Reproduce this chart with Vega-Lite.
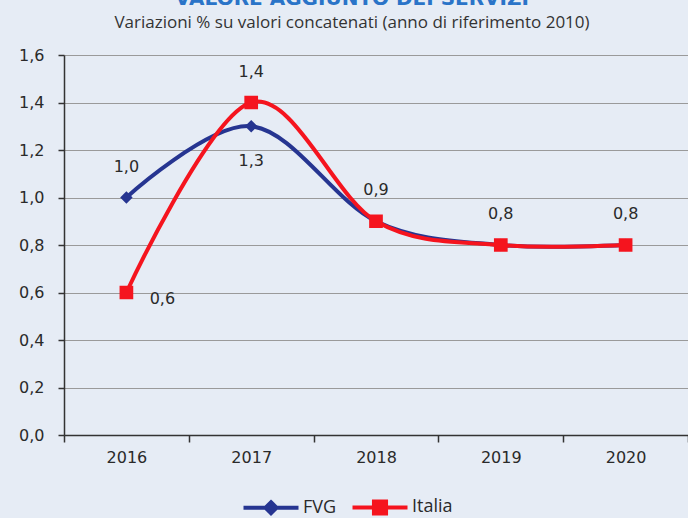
{
  "$schema": "https://vega.github.io/schema/vega-lite/v6.json",
  "width": 624,
  "height": 380,
  "autosize": {"type": "none"},
  "padding": {"left": 64, "top": 55, "right": 0, "bottom": 83},
  "background": "#e6ecf5",
  "title": {
    "text": "VALORE AGGIUNTO DEI SERVIZI",
    "subtitle": "Variazioni % su valori concatenati (anno di riferimento 2010)",
    "anchor": "middle",
    "dx": -24,
    "dy": -8,
    "font": "DejaVu Sans",
    "fontSize": 20,
    "fontWeight": "bold",
    "color": "#2a74c8",
    "subtitleFont": "Open Sans",
    "subtitleFontSize": 17,
    "subtitleColor": "#333333",
    "subtitlePadding": 6,
    "offset": 8
  },
  "config": {
    "locale": {"number": {"decimal": ",", "thousands": ".", "grouping": [3], "currency": ["€", ""]}},
    "view": {"stroke": null},
    "font": "DejaVu Sans"
  },
  "data": {
    "values": [
      {"year": "2016", "series": "FVG", "value": 1.0},
      {"year": "2017", "series": "FVG", "value": 1.3},
      {"year": "2018", "series": "FVG", "value": 0.9},
      {"year": "2019", "series": "FVG", "value": 0.8},
      {"year": "2020", "series": "FVG", "value": 0.8},
      {"year": "2016", "series": "Italia", "value": 0.6},
      {"year": "2017", "series": "Italia", "value": 1.4},
      {"year": "2018", "series": "Italia", "value": 0.9},
      {"year": "2019", "series": "Italia", "value": 0.8},
      {"year": "2020", "series": "Italia", "value": 0.8}
    ]
  },
  "encoding": {
    "x": {
      "field": "year", "type": "ordinal",
      "scale": {"type": "band", "paddingInner": 0, "paddingOuter": 0},
      "axis": {
        "title": null, "labelAngle": 0, "tickBand": "extent",
        "domainColor": "#333333", "domainWidth": 1.5,
        "tickColor": "#333333", "tickWidth": 1.5, "tickSize": 7,
        "labelFont": "DejaVu Sans", "labelFontSize": 16, "labelColor": "#2a2a2a", "labelPadding": 7,
        "grid": false
      }
    },
    "y": {
      "field": "value", "type": "quantitative",
      "scale": {"domain": [0, 1.6], "nice": false, "zero": true},
      "axis": {
        "title": null, "values": [0, 0.2, 0.4, 0.6, 0.8, 1.0, 1.2, 1.4, 1.6],
        "format": ".1f",
        "domainColor": "#333333", "domainWidth": 1.5,
        "tickColor": "#333333", "tickWidth": 1.5, "tickSize": 6,
        "labelFont": "DejaVu Sans", "labelFontSize": 16, "labelColor": "#2a2a2a", "labelPadding": 14,
        "gridColor": "#9a9a9a", "gridWidth": 1.2, "gridOpacity": 1
      }
    }
  },
  "layer": [
    {
      "mark": {"type": "line", "interpolate": "cardinal", "strokeWidth": 4},
      "encoding": {
        "color": {
          "field": "series", "type": "nominal",
          "scale": {"domain": ["FVG", "Italia"], "range": ["#263591", "#f5141e"]}
        }
      }
    },
    {
      "mark": {"type": "point", "filled": true, "opacity": 1, "size": 620},
      "encoding": {
        "color": {
          "field": "series", "type": "nominal",
          "scale": {"domain": ["FVG", "Italia"], "range": ["#263591", "#f5141e"]}
        },
        "shape": {
          "field": "series", "type": "nominal",
          "scale": {"domain": ["FVG", "Italia"], "range": ["M-2.5,0H2.5M0,-0.5L0.5,0L0,0.5L-0.5,0Z", "M-2.5,0H2.5M-0.55,-0.55H0.55V0.55H-0.55Z"]},
          "legend": {
            "title": null, "orient": "none", "direction": "horizontal",
            "legendX": 194, "legendY": 439,
            "symbolSize": 484, "symbolStrokeWidth": 4, "labelFontSize": 18, "labelColor": "#2a2a2a",
            "labelFont": "Open Sans", "labelOffset": 19, "columnPadding": 7,
            "encode": {"symbols": {"update": {"stroke": {"scale": "color", "field": "value"}, "strokeWidth": {"value": 4}}}}
          }
        }
      }
    },
    {
      "transform": [{"filter": "(datum.series == 'FVG' && datum.year == '2016') || (datum.series == 'Italia' && datum.year != '2016')"}],
      "mark": {"type": "text", "dy": -31, "fontSize": 16, "color": "#2a2a2a", "font": "DejaVu Sans"},
      "encoding": {"text": {"field": "value", "type": "quantitative", "format": ".1f"}}
    },
    {
      "transform": [{"filter": "datum.series == 'FVG' && datum.year == '2017'"}],
      "mark": {"type": "text", "dy": 35, "fontSize": 16, "color": "#2a2a2a", "font": "DejaVu Sans"},
      "encoding": {"text": {"field": "value", "type": "quantitative", "format": ".1f"}}
    },
    {
      "transform": [{"filter": "datum.series == 'Italia' && datum.year == '2016'"}],
      "mark": {"type": "text", "dx": 36, "dy": 6, "fontSize": 16, "color": "#2a2a2a", "font": "DejaVu Sans"},
      "encoding": {"text": {"field": "value", "type": "quantitative", "format": ".1f"}}
    }
  ]
}
